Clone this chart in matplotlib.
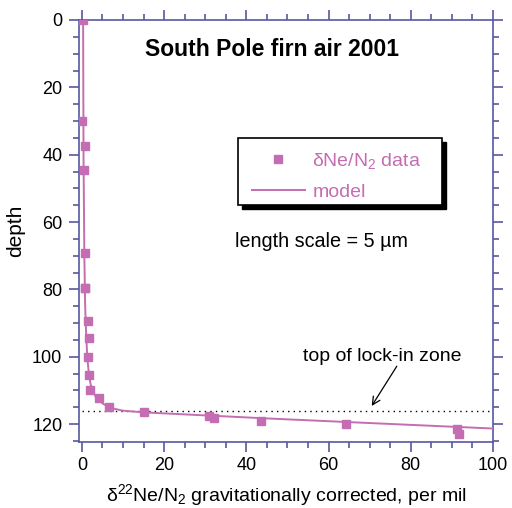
import matplotlib
matplotlib.use("Agg")
import matplotlib.pyplot as plt
from matplotlib.ticker import MultipleLocator
from matplotlib.patches import Rectangle

plt.rcParams['font.family'] = ['Liberation Sans', 'DejaVu Sans']
plt.rcParams['mathtext.fontset'] = 'custom'
plt.rcParams['mathtext.rm'] = 'Liberation Sans'
plt.rcParams['mathtext.it'] = 'Liberation Sans'
plt.rcParams['mathtext.default'] = 'regular'

# data points (delta 22Ne/N2, depth)
data_x = [0.3, 0.0, 0.8, 0.5, 0.8, 0.7, 0.8, 1.4, 1.7, 1.5, 1.7, 2.0, 4.2, 6.6,
          15.2, 31.0, 32.1, 43.5, 64.2, 91.2, 91.8]
data_depth = [0, 29.9, 37.3, 44.4, 69.3, 79.6, 79.6, 89.4, 94.4, 100.2, 105.4, 109.8,
              112.3, 114.9, 116.4, 117.6, 118.2, 119.1, 120.0, 121.3, 123.0]

# model curve
model_x = [0.3, 0.4, 0.6, 0.8, 1.0, 1.3, 1.7, 2.1, 2.6, 3.4, 4.2, 5.2, 7.0, 10.0,
           15.0, 30.0, 45.0, 65.0, 100.0]
model_depth = [0, 40, 70, 85, 92, 100, 105, 108, 110, 112, 113, 114, 115.2, 116.0,
               116.5, 117.4, 118.3, 119.4, 121.3]

lock_in_depth = 116.2

pink = '#c46db2'
axcol = '#5858a0'

W, H = 512, 508
fig = plt.figure(figsize=(W / 100, H / 100), dpi=100)
ax = fig.add_axes([79 / W, 1 - 442 / H, (493 - 79) / W, (442 - 20) / H])

l_model, = ax.plot(model_x, model_depth, color=pink, lw=1.4, zorder=3)
l_data, = ax.plot(data_x, data_depth, 's', color=pink, ms=5.5, mec=pink, zorder=4)
ax.plot([0, 100], [lock_in_depth, lock_in_depth], color='black', lw=1.0, ls=(0, (1, 3)), zorder=2)

ax.set_xlim(-0.7, 100)
ax.set_ylim(125.3, 0)

for s in ax.spines.values():
    s.set_color(axcol)
    s.set_linewidth(1.2)

ax.xaxis.set_major_locator(MultipleLocator(20))
ax.xaxis.set_minor_locator(MultipleLocator(5))
ax.yaxis.set_major_locator(MultipleLocator(20))
ax.yaxis.set_minor_locator(MultipleLocator(5))
ax.tick_params(which='both', direction='out', color=axcol, top=True, right=True,
               labeltop=False, labelright=False, labelsize=13, width=1.2)
ax.tick_params(which='major', length=7)
ax.tick_params(which='minor', length=4)
ax.tick_params(axis='y', pad=5)

ax.set_xlabel('δ$^{22}$Ne/N$_2$ gravitationally corrected, per mil', fontsize=14, labelpad=6)
ax.set_ylabel('depth', fontsize=15, labelpad=5)

ax.text(0.465, 0.929, 'South Pole firn air 2001', transform=ax.transAxes,
        fontsize=16.5, fontweight='bold', ha='center', va='center')
ax.text(0.585, 0.476, 'length scale = 5 µm', transform=ax.transAxes,
        fontsize=14.2, ha='center', va='center')
ax.text(0.733, 0.203, 'top of lock-in zone', transform=ax.transAxes,
        fontsize=14, ha='center', va='center')
ax.annotate('', xy=(70.5, 114.6), xytext=(76.6, 102.8),
            arrowprops=dict(arrowstyle='->', color='black', lw=0.9, shrinkA=0, shrinkB=0,
                            mutation_scale=14))

# legend frame with solid shadow (pixel-placed box)
bx0, by0, bx1, by1 = 238, 138, 442, 205
fig.patches.append(Rectangle((bx0 / W + 4 / W, 1 - by1 / H - 4 / H), (bx1 - bx0) / W, (by1 - by0) / H,
                             transform=fig.transFigure, facecolor='black', edgecolor='black', zorder=5))
fig.patches.append(Rectangle((bx0 / W, 1 - by1 / H), (bx1 - bx0) / W, (by1 - by0) / H,
                             transform=fig.transFigure, facecolor='white', edgecolor='black',
                             lw=1.2, zorder=6))

leg = ax.legend([l_data, l_model], ['δNe/N$_2$ data', 'model'], loc='upper left',
                bbox_to_anchor=(252 / W, 1 - 151 / H), bbox_transform=fig.transFigure,
                frameon=False, fontsize=14, labelcolor=pink, handlelength=2.7,
                handletextpad=0.4, labelspacing=0.65, borderpad=0, borderaxespad=0)
leg.set_zorder(7)
leg.set_figure(fig)
ax.legend_ = None
fig.legends.append(leg)

fig.savefig('out.png', dpi=100)
